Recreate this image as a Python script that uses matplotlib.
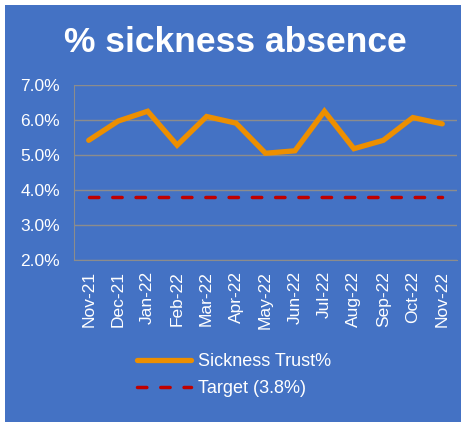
import matplotlib
matplotlib.use("Agg")
import matplotlib.pyplot as plt
from matplotlib.patches import Rectangle

plt.rcParams["font.family"] = ["Liberation Sans", "DejaVu Sans"]

BLUE = "#4472C4"
ORANGE = "#ED8F00"
RED = "#C00000"
GRID = "#8C8C8C"

months = ["Nov-21", "Dec-21", "Jan-22", "Feb-22", "Mar-22", "Apr-22", "May-22",
          "Jun-22", "Jul-22", "Aug-22", "Sep-22", "Oct-22", "Nov-22"]
sickness = [5.42, 5.97, 6.25, 5.28, 6.10, 5.91, 5.05, 5.12, 6.25, 5.18, 5.42, 6.07, 5.89]
target = [3.8] * len(months)

W, H = 461, 422
fig = plt.figure(figsize=(W / 100, H / 100), dpi=100)
fig.patch.set_facecolor("white")
fig.patches.append(Rectangle((5 / W, 0), 1 - 5 / W, 1 - 5 / H, transform=fig.transFigure,
                             facecolor=BLUE, edgecolor="none", zorder=-10))

fig.text(235 / W, 1 - 43 / H, "% sickness absence", color="white", fontsize=25.5,
         fontweight="bold", ha="center", va="center")

# plot area: x 74..457, y 85..260 (pixels from top)
ax = fig.add_axes([74 / W, 1 - 260 / H, (457 - 74) / W, (260 - 85) / H])
ax.set_facecolor(BLUE)
x = range(len(months))
ax.plot(x, sickness, color=ORANGE, lw=3.8, solid_capstyle="round",
        solid_joinstyle="miter", label="Sickness Trust%", zorder=3)
ax.plot(x, target, color=RED, lw=2.5, ls=(0, (2.7, 4.0)), dash_capstyle="round",
        label="Target (3.8%)", zorder=3)

ax.set_xlim(-0.5, len(months) - 0.5)
ax.set_ylim(2.0, 7.0)
ax.set_yticks([2, 3, 4, 5, 6, 7])
ax.set_yticklabels([f"{v:.1f}%" for v in [2, 3, 4, 5, 6, 7]])
ax.set_xticks(list(x))
ax.set_xticklabels(months, rotation=90)
ax.tick_params(axis="both", colors="white", labelsize=12.5, length=0)
ax.tick_params(axis="x", pad=8)
ax.tick_params(axis="y", pad=10)
for lbl in ax.get_xticklabels() + ax.get_yticklabels():
    lbl.set_color("white")
ax.grid(axis="y", color=GRID, lw=1)
ax.set_axisbelow(True)
for side in ["top", "right"]:
    ax.spines[side].set_visible(False)
ax.spines["left"].set_color(GRID)
ax.spines["bottom"].set_color(GRID)

leg = fig.legend(loc="upper left", bbox_to_anchor=(121 / W, 1 - 337 / H), frameon=False,
                 fontsize=13, labelcolor="white", handlelength=3.0, handletextpad=0.35,
                 labelspacing=0.55)

fig.savefig("out.png", dpi=100, facecolor=fig.get_facecolor())
